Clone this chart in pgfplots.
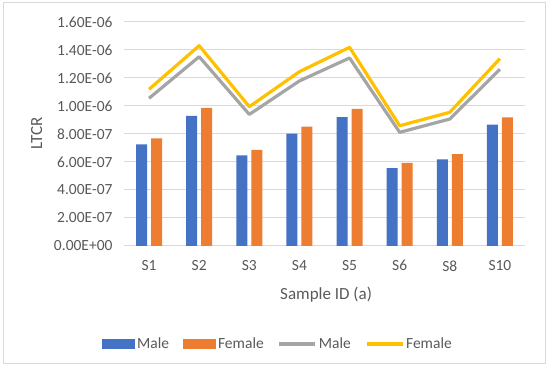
\documentclass[border=0pt]{standalone}
\usepackage{pgfplots}
\pgfplotsset{compat=1.18}
\usepackage{fontspec}
\setmainfont{Carlito}
\definecolor{txt}{HTML}{595959}
\definecolor{gridc}{HTML}{D9D9D9}
\definecolor{cblue}{HTML}{4472C4}
\definecolor{corange}{HTML}{ED7D31}
\definecolor{cgray}{HTML}{A5A5A5}
\definecolor{cyellow}{HTML}{FFC000}
\begin{document}
\begin{tikzpicture}[x=1pt,y=1pt]
\path (0,0) rectangle (550,367);
\draw[gridc, line width=1pt] (3,3) rectangle (545,364);
\begin{axis}[
  at={(124pt,121pt)}, anchor=south west,
  scale only axis, width=401pt, height=224pt,
  xmin=-0.5, xmax=7.5, ymin=0, ymax=1.6e-6,
  xtick={0,1,2,3,4,5,6,7},
  xticklabels={S1,S2,S3,S4,S5,S6,S8,S10},
  ytick={0,2e-7,4e-7,6e-7,8e-7,1e-6,1.2e-6,1.4e-6,1.6e-6},
  yticklabels={0.00E+00,2.00E-07,4.00E-07,6.00E-07,8.00E-07,1.00E-06,1.20E-06,1.40E-06,1.60E-06},
  scaled y ticks=false,
  axis lines=left,
  axis line style={-},
  x axis line style={draw=gridc, line width=1pt},
  y axis line style={draw=none},
  ymajorgrids, grid style={gridc, line width=1pt},
  major tick length=0pt,
  tick style={draw=none},
  ticklabel style={font=\fontsize{15.5}{18}\selectfont, text=txt},
  yticklabel style={xshift=-8pt},
  xticklabel style={yshift=-11pt},
  xlabel={Sample ID (a)}, ylabel={LTCR},
  label style={font=\fontsize{17}{20}\selectfont, text=txt},
  xlabel style={at={(axis description cs:0.504,-0.217)}, anchor=center},
  ylabel style={at={(axis description cs:-0.218,0.504)}, anchor=center},
  legend style={draw=none, fill=none, legend columns=-1,
    at={(0.384,-0.4375)}, anchor=center,
    font=\fontsize{15.5}{18}\selectfont, text=txt,
    /tikz/every even column/.append style={column sep=12pt}},
  clip=false,
]
\addplot[fill=cblue, draw=none, ybar, bar width=11pt, bar shift=-7.5pt,
  legend image code/.code={\fill[cblue] (0pt,-5pt) rectangle (33pt,5pt);}]
  coordinates {(0,7.26e-7) (1,9.29e-7) (2,6.48e-7) (3,8.02e-7) (4,9.21e-7) (5,5.57e-7) (6,6.19e-7) (7,8.67e-7)};
\addlegendentry{Male}
\addplot[fill=corange, draw=none, ybar, bar width=11pt, bar shift=7.5pt,
  legend image code/.code={\fill[corange] (0pt,-5pt) rectangle (33pt,5pt);}]
  coordinates {(0,7.69e-7) (1,9.86e-7) (2,6.86e-7) (3,8.52e-7) (4,9.79e-7) (5,5.93e-7) (6,6.57e-7) (7,9.19e-7)};
\addlegendentry{Female}
\addplot[cgray, line width=3.2pt, mark=none, line join=round,
  legend image code/.code={\draw[cgray, line width=3.2pt] (0pt,0pt) -- (36pt,0pt);}]
  coordinates {(0,1.055e-6) (1,1.352e-6) (2,0.940e-6) (3,1.179e-6) (4,1.343e-6) (5,0.812e-6) (6,0.907e-6) (7,1.262e-6)};
\addlegendentry{Male}
\addplot[cyellow, line width=3.2pt, mark=none, line join=round,
  legend image code/.code={\draw[cyellow, line width=3.2pt] (0pt,0pt) -- (36pt,0pt);}]
  coordinates {(0,1.119e-6) (1,1.431e-6) (2,0.995e-6) (3,1.245e-6) (4,1.419e-6) (5,0.859e-6) (6,0.955e-6) (7,1.338e-6)};
\addlegendentry{Female}
\end{axis}
\end{tikzpicture}
\end{document}
